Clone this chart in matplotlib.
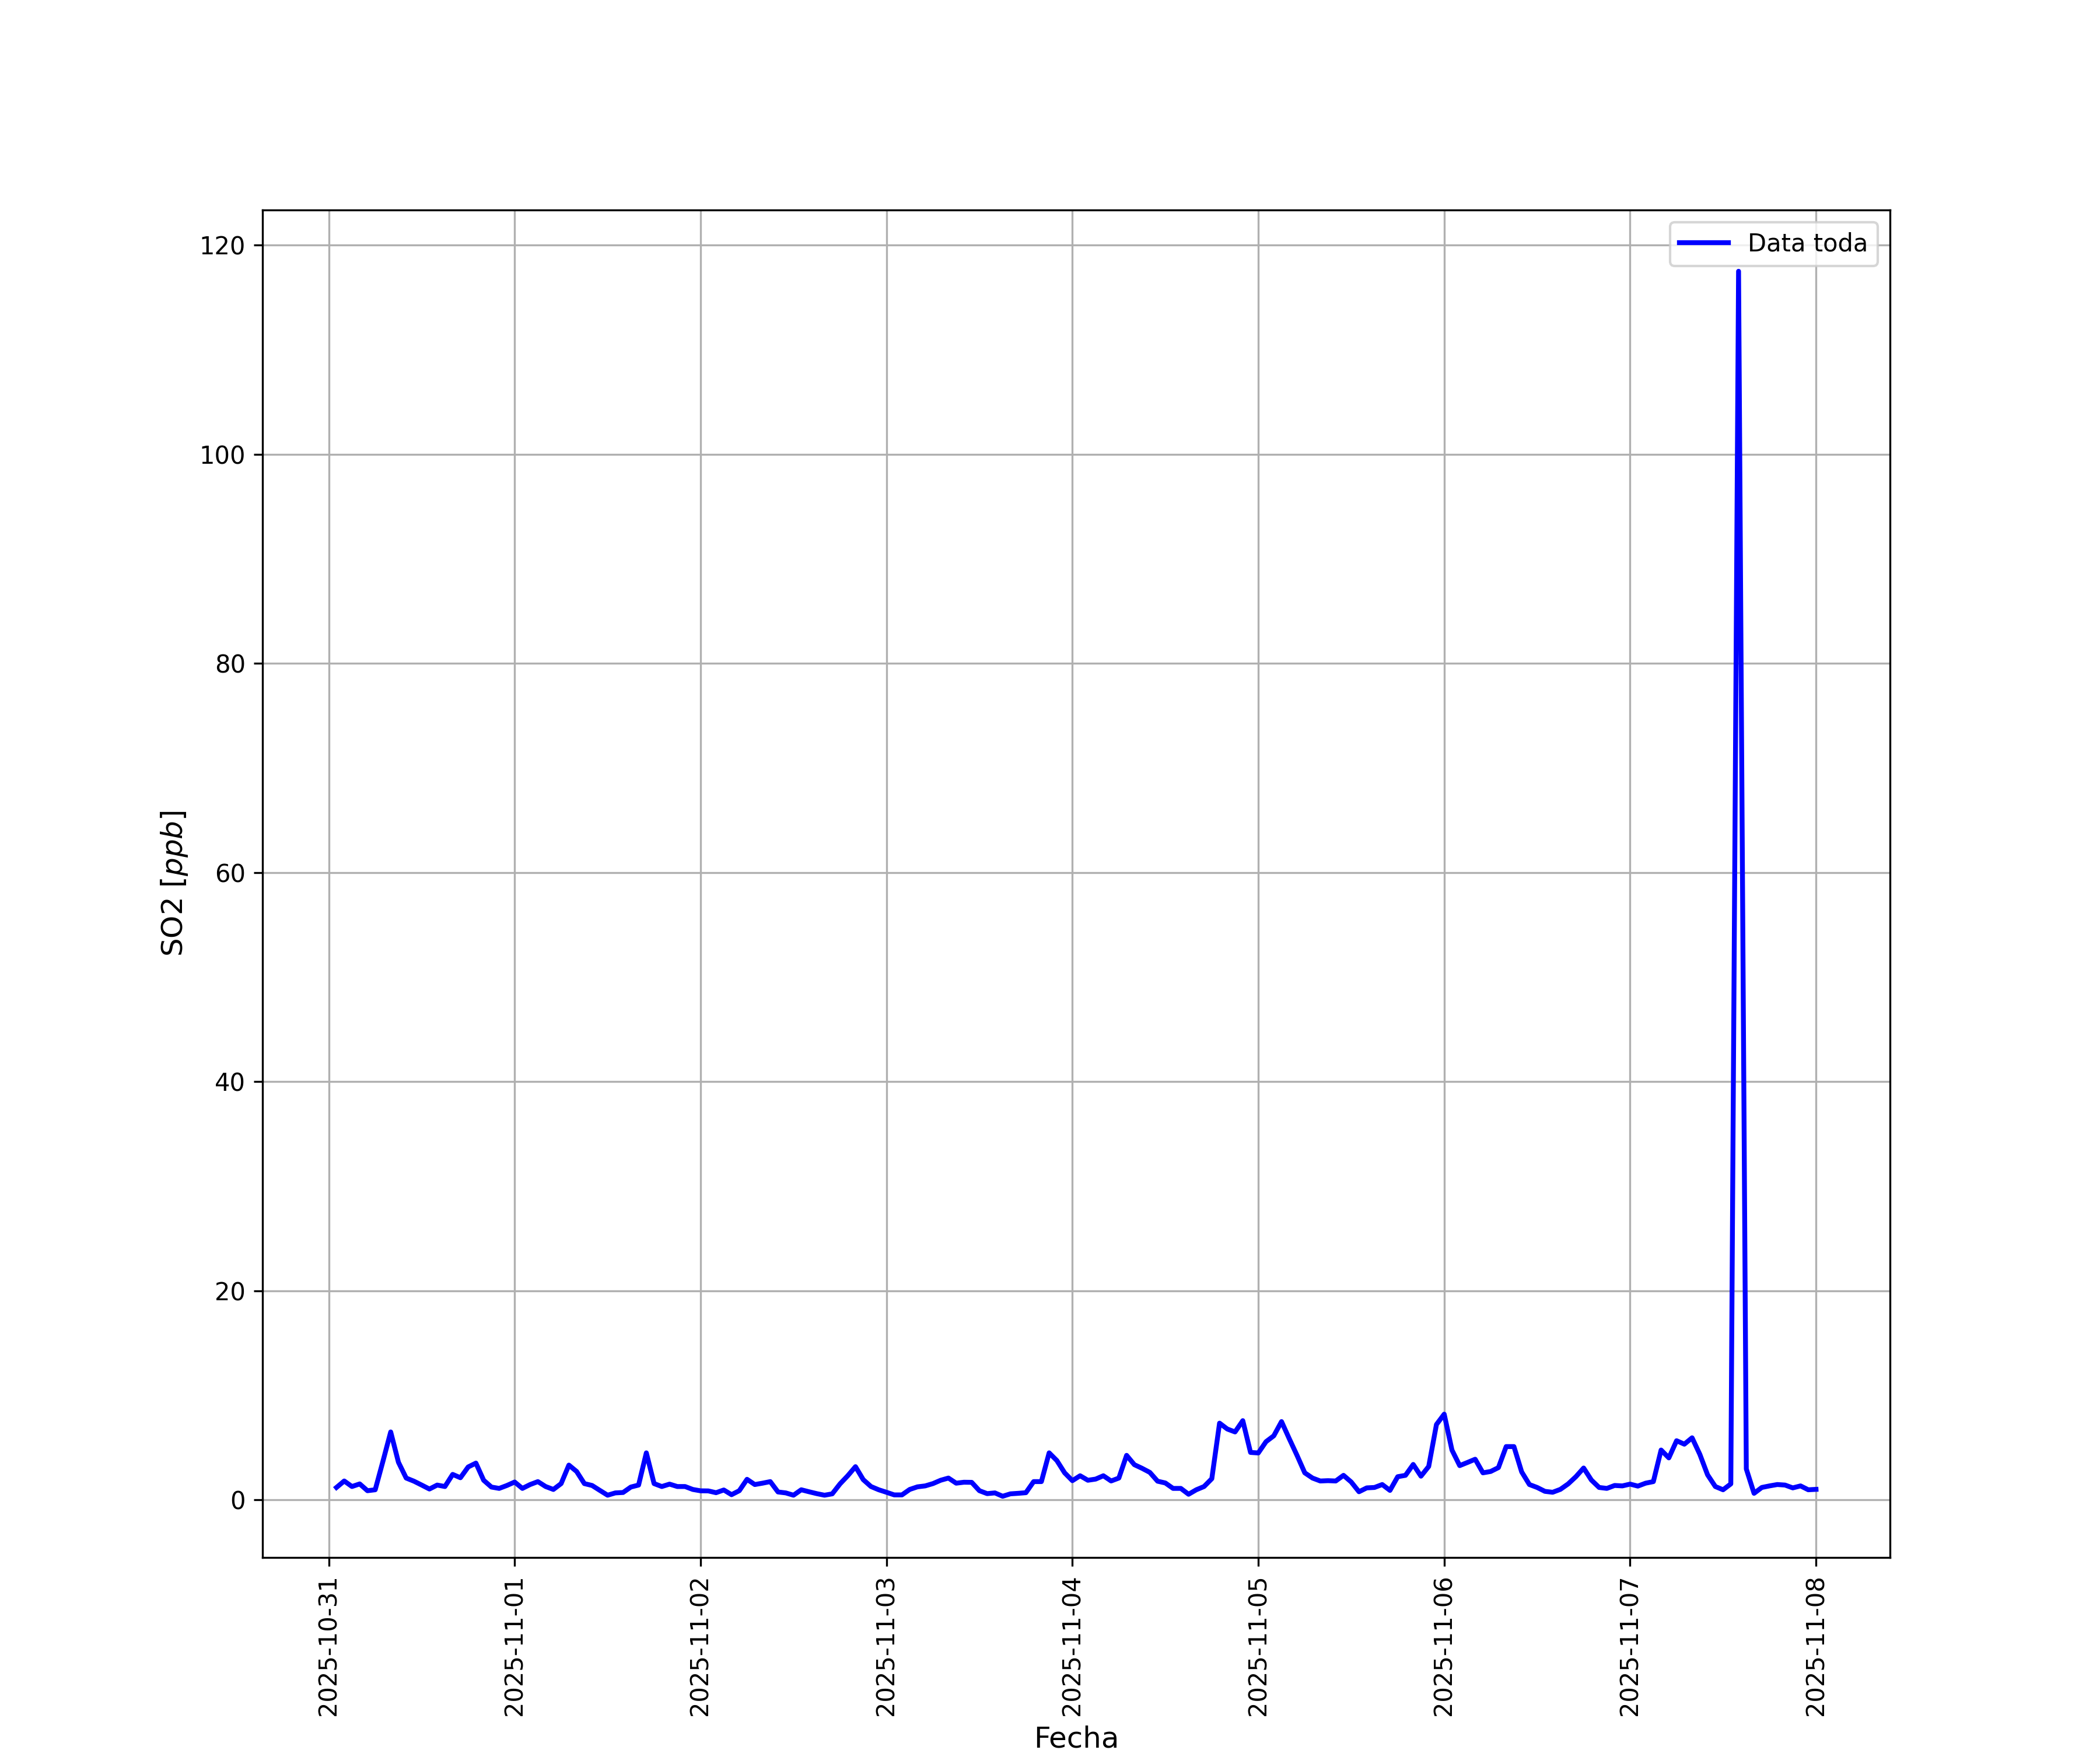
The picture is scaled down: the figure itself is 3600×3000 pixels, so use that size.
import matplotlib
matplotlib.use('Agg')
import matplotlib.pyplot as plt
import pandas as pd

# Hourly SO2 readings [ppb], 2025-10-31 01:00 -> 2025-11-08 00:00
start = '2025-10-31 01:00'

so2_oct31 = [1.19, 1.81, 1.28, 1.53, 0.88, 0.97, 3.7, 6.5, 3.6, 2.09, 1.79, 1.42,
             1.04, 1.42, 1.28, 2.44, 2.12, 3.15, 3.52, 1.88, 1.23, 1.10, 1.38]
so2_nov01 = [1.71, 1.10, 1.47, 1.75, 1.28, 1.00, 1.56, 3.33, 2.72, 1.56, 1.38, 0.91,
             0.45, 0.67, 0.71, 1.23, 1.42, 4.5, 1.56, 1.28, 1.51, 1.28, 1.28, 1.00]
so2_nov02 = [0.87, 0.86, 0.69, 0.95, 0.50, 0.88, 1.97, 1.47, 1.60, 1.75, 0.76, 0.67,
             0.45, 0.97, 0.78, 0.60, 0.45, 0.58, 1.53, 2.31, 3.18, 1.94, 1.28, 0.97]
so2_nov03 = [0.73, 0.48, 0.48, 1.00, 1.25, 1.34, 1.56, 1.88, 2.09, 1.60, 1.69, 1.68,
             0.88, 0.60, 0.67, 0.35, 0.58, 0.63, 0.69, 1.75, 1.75, 4.5, 3.76, 2.59]
so2_nov04 = [1.84, 2.31, 1.88, 1.99, 2.31, 1.81, 2.09, 4.26, 3.37, 3.02, 2.63, 1.79,
             1.62, 1.10, 1.10, 0.54, 0.97, 1.28, 2.03, 7.34, 6.78, 6.50, 7.58, 4.54]
so2_nov05 = [4.49, 5.57, 6.13, 7.49, 5.85, 4.26, 2.59, 2.09, 1.81, 1.84, 1.81, 2.35,
             1.71, 0.78, 1.15, 1.19, 1.47, 0.91, 2.22, 2.35, 3.39, 2.27, 3.20, 7.21]
so2_nov06 = [8.2, 4.77, 3.28, 3.58, 3.89, 2.59, 2.72, 3.09, 5.10, 5.10, 2.68, 1.47,
             1.19, 0.82, 0.73, 1.01, 1.53, 2.22, 3.05, 1.90, 1.19, 1.10, 1.38, 1.34]
so2_nov07 = [1.51, 1.32, 1.60, 1.75, 4.77, 4.02, 5.66, 5.33, 5.94, 4.36, 2.40, 1.28,
             0.97, 1.53, 117.5, 2.96, 0.63, 1.19, 1.34, 1.47, 1.42, 1.15, 1.34, 0.97]
so2_nov08 = [1.01]

so2 = (so2_oct31 + so2_nov01 + so2_nov02 + so2_nov03 + so2_nov04
       + so2_nov05 + so2_nov06 + so2_nov07 + so2_nov08)
fechas = pd.date_range(start, periods=len(so2), freq='h')

plt.figure(figsize=(12, 10))
plt.plot(fechas, so2, color='blue', linewidth=2, label='Data toda')
plt.xlabel('Fecha', fontsize=12)
plt.ylabel('SO2 [$ppb$]', fontsize=12)
plt.xticks(rotation=90)
plt.legend(loc='upper right')
plt.grid(True)
plt.savefig('out.png', dpi=300)
